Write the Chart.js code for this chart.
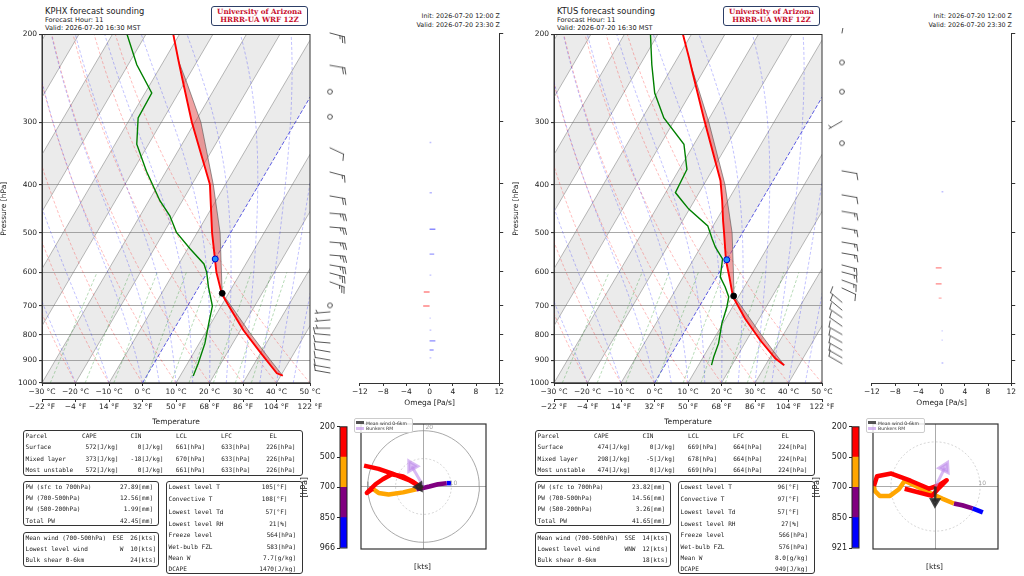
<!DOCTYPE html>
<html>
<head>
<meta charset="utf-8">
<title>Forecast soundings KPHX / KTUS</title>
<script src="https://cdn.jsdelivr.net/npm/chart.js@4.4.1/dist/chart.umd.min.js"></script>
<style>
  body { margin: 0; background: #fff; font-family: "DejaVu Sans", sans-serif; color: #222;
         -webkit-font-smoothing: antialiased; }
  #page { position: relative; width: 1024px; height: 576px; overflow: hidden; }
  .panel { position: absolute; top: 0; width: 512px; height: 576px; }
  .panel canvas { position: absolute; }
  .abs { position: absolute; white-space: pre; line-height: 8px; }
  .ttl { font-size: 8.3px; line-height: 10px; }
  .sub { font-size: 6.6px; }
  .init { font-size: 6.4px; }
  .ua { position: absolute; box-sizing: border-box; border: 1.3px solid #2c3e66; border-radius: 3px;
        font-family: "DejaVu Serif", serif; font-weight: bold; color: #c8102e; font-size: 7.2px;
        text-align: center; line-height: 8.6px; padding-top: 0.5px; }
  .box { position: absolute; box-sizing: border-box; border: 1.2px solid #333; border-radius: 3px; }
  .mono { font-family: "DejaVu Sans Mono", monospace; font-size: 6.1px; }
  .lg { position: absolute; box-sizing: border-box; border: 0.6px solid #ccc; border-radius: 2px;
        background: rgba(255,255,255,0.85); font-size: 4.6px; line-height: 5.6px; color: #333; }
  .sw { display: inline-block; width: 8px; height: 3px; margin: 0 2px 0 1px; vertical-align: 0.5px; }
</style>
</head>
<body>
<div id="page">
  <div id="p0" class="panel" style="left:0"></div>
  <div id="p1" class="panel" style="left:512px"></div>
</div>
<script>
// ---------- KPHX sounding ----------
var phxTempP = [967, 956, 866, 784, 700, 663, 600, 565, 500, 400, 300, 250, 226, 200];
var phxTemp  = [40.6, 38.4, 29.6, 20.9, 12.2, 8.1, 2.7, 0.0, -5.5, -14.6, -30.9, -40.4, -45.6, -51.8];
var phxDewP  = [968, 913, 833, 749, 701, 642, 600, 577, 538, 499, 462, 431, 376, 332, 294, 262, 230, 200];
var phxDew   = [13.9, 13.2, 11.7, 9.0, 7.4, 2.9, -0.2, -2.5, -9.3, -16.2, -21.1, -26.7, -35.9, -43.5, -47.7, -48.0, -57.4, -65.6];
var phxParcelP = [967, 900, 800, 700, 661, 600, 500, 400, 300, 250, 226];
var phxParcelT = [40.6, 34.2, 24.0, 12.9, 8.1, 4.2, -3.1, -13.6, -28.2, -39.3, -45.6];
var phxLcl = [661, 8.1];
var phxFzl = [564, 0];
var phxBarbP   = [200, 232, 262, 294, 339, 379, 423, 458, 488, 523, 555, 581, 603, 628, 700, 721, 748, 777, 802, 832, 867, 900, 933, 955];
var phxBarbSpd = [25, 20, 0, 0, 10, 15, 20, 25, 25, 25, 25, 25, 25, 25, 0, 5, 5, 5, 10, 10, 10, 10, 10, 10];
var phxBarbDir = [105, 100, 0, 0, 115, 105, 100, 95, 95, 95, 95, 100, 105, 110, 0, 265, 265, 270, 275, 275, 280, 280, 280, 280];
var phxOmegaP = [331, 417, 493, 553, 609, 658, 702, 742, 784, 824, 859, 891];
var phxOmega  = [0.3, 0.4, 1.0, 0.8, 0.3, -1.0, -1.1, 0.2, 0.3, 1.0, 0.7, 0.3];
var phxHodoU = [9.9, 8.3, 5.2, 2.1, -1.0, -2.6, -7.3, -12.5, -16.1, -18.2, -20.3, -17.2, -14.6, -11.4, -7.3, -3.6, -1.0, -5.2, -11.4, -16.1, -21.3];
var phxHodoV = [1.2, 1.2, 0.8, 0.0, -0.7, -1.0, -2.1, -2.9, -2.3, -0.8, -2.3, 0.8, 2.6, 4.4, 3.6, 1.6, -0.2, 2.3, 4.7, 6.3, 7.5];
var phxHodoBand = [0, 0, 1, 1, 1, 1, 2, 2, 2, 2, 3, 3, 3, 3, 3, 3, 3, 3, 3, 3, 3];
var phxHodoRange = 22.4;
var phxMeanWind = [-1.6, -0.1];
var phxBunkersRM = [-4.2, 7.3];
var phxCbLabels = ['200', '500', '700', '850', '966'];

// ---------- KTUS sounding ----------
var tusTempP = [921, 893, 821, 743, 671, 613, 568, 500, 473, 431, 393, 294, 237, 224, 200];
var tusTemp  = [35.6, 31.8, 24.1, 15.8, 8.3, 3.8, -0.1, -5.5, -7.9, -11.7, -15.7, -31.7, -43.3, -46.3, -52.5];
var tusDewP  = [921, 886, 833, 760, 704, 672, 642, 613, 564, 534, 514, 484, 448, 431, 415, 373, 332, 294, 262, 230, 200];
var tusDew   = [13.9, 13.1, 12.2, 9.7, 8.3, 7.1, 4.3, 1.1, -1.4, -5.6, -8.0, -11.6, -20.2, -23.7, -27.1, -27.7, -33.0, -43.6, -50.7, -56.5, -62.2];
var tusParcelP = [921, 850, 800, 700, 669, 600, 500, 400, 300, 250, 224];
var tusParcelT = [35.6, 28.6, 23.4, 12.3, 8.5, 4.2, -3.1, -13.7, -29.4, -40.0, -46.4];
var tusLcl = [669, 8.4];
var tusFzl = [566, 0];
var tusBarbP   = [200, 229, 262, 300, 332, 377, 421, 454, 490, 523, 550, 581, 600, 623, 646, 690, 715, 740, 770, 800, 830, 860, 890, 915];
var tusBarbSpd = [5, 0, 0, 5, 0, 10, 10, 15, 15, 15, 15, 15, 15, 15, 10, 10, 10, 10, 10, 10, 10, 12, 12, 12];
var tusBarbDir = [10, 0, 0, 240, 0, 100, 100, 100, 100, 100, 100, 105, 105, 110, 115, 310, 310, 305, 305, 300, 300, 300, 300, 300];
var tusOmegaP = [415, 589, 634, 677, 787, 821, 912];
var tusOmega  = [0.3, -1.0, -1.0, -0.5, 0.2, 0.2, 0.3];
var tusHodoU = [10.6, 8.3, 6.0, 4.1, 1.5, -0.5, -6.9, -8.2, -10.2, -12.5, -13.6, -13.8, -13.1, -9.9, -5.6, -1.4, 0.8, 2.5, 0.8, -0.8, -6.9];
var tusHodoV = [-5.8, -4.9, -4.2, -3.8, -2.7, -1.8, 1.3, -0.6, -2.1, -2.1, -1.0, 0.1, 2.3, 2.9, 1.3, -0.5, 0.3, 1.4, -0.3, -2.1, -0.5];
var tusHodoBand = [0, 0, 1, 1, 2, 2, 2, 2, 2, 2, 2, 2, 3, 3, 3, 3, 3, 3, 3, 3, 3];
var tusHodoRange = 14.0;
var tusMeanWind = [-0.1, -3.4];
var tusBunkersRM = [2.1, 4.2];
var tusCbLabels = ['200', '500', '700', '850', '921'];

// ---------- tables ----------
var parcelHeader = ['Parcel', 'CAPE', 'CIN', 'LCL', 'LFC', 'EL'];
var phxParcelRows = [
  ['Surface', '572[J/kg]', '0[J/kg]', '661[hPa]', '633[hPa]', '226[hPa]'],
  ['Mixed layer', '373[J/kg]', '-18[J/kg]', '670[hPa]', '633[hPa]', '226[hPa]'],
  ['Most unstable', '572[J/kg]', '0[J/kg]', '661[hPa]', '633[hPa]', '226[hPa]']
];
var tusParcelRows = [
  ['Surface', '474[J/kg]', '0[J/kg]', '669[hPa]', '664[hPa]', '224[hPa]'],
  ['Mixed layer', '298[J/kg]', '-5[J/kg]', '678[hPa]', '664[hPa]', '224[hPa]'],
  ['Most unstable', '474[J/kg]', '0[J/kg]', '669[hPa]', '664[hPa]', '224[hPa]']
];
var pwLabels = ['PW (sfc to 700hPa)', 'PW (700-500hPa)', 'PW (500-200hPa)', 'Total PW'];
var phxPw = ['27.89[mm]', '12.56[mm]', '1.99[mm]', '42.45[mm]'];
var tusPw = ['23.82[mm]', '14.56[mm]', '3.26[mm]', '41.65[mm]'];
var windLabels = ['Mean wind (700-500hPa)', 'Lowest level wind', 'Bulk shear 0-6km'];
var phxWindDir = ['ESE', 'W', ''];
var phxWindVal = ['26[kts]', '10[kts]', '24[kts]'];
var tusWindDir = ['SSE', 'WNW', ''];
var tusWindVal = ['14[kts]', '12[kts]', '18[kts]'];
var indexLabels = ['Lowest level T', 'Convective T', 'Lowest level Td', 'Lowest level RH', 'Freeze level', 'Wet-bulb FZL', 'Mean W', 'DCAPE'];
var phxIndex = ['105[°F]', '108[°F]', '57[°F]', '21[%]', '564[hPa]', '583[hPa]', '7.7[g/kg]', '1470[J/kg]'];
var tusIndex = ['96[°F]', '97[°F]', '57[°F]', '27[%]', '566[hPa]', '576[hPa]', '8.0[g/kg]', '949[J/kg]'];

// ---------- axes ----------
var pressureTicks = [200, 300, 400, 500, 600, 700, 800, 900, 1000];
var tempTicksC = [-30, -20, -10, 0, 10, 20, 30, 40, 50];
var tempTicksF = [-22, -4, 14, 32, 50, 68, 86, 104, 122];
var omegaTicks = [-12, -8, -4, 0, 4, 8, 12];
var hodoRings = [10, 20];
var bandColors = ['#0000ff', '#800080', '#ffa500', '#ff0000'];

// background reference lines of the skew-T diagram
var dryT0 = [-30, -20, -10, 0, 10, 20, 30, 40, 50];
var moistT0 = [-30, -20, -10, 0, 5, 10, 15, 20, 25, 30, 35, 40, 45, 50];
var mixRatios = [0.0004, 0.001, 0.002, 0.004, 0.007, 0.01, 0.016, 0.024, 0.032];

var SKEW = 37.9;   // degC shift per ln(1000/p)

Chart.defaults.font.family = '"DejaVu Sans", sans-serif';
Chart.defaults.font.size = 7.5;
Chart.defaults.color = '#222';

function skewX(t, p) { return t + SKEW * Math.log(1000 / p); }
function minus(v) { return v < 0 ? '\u2212' + Math.abs(v) : String(v); }
function fixedTicks(list) { return function (sc) { sc.ticks = list.map(function (v) { return {value: v}; }); }; }

function dryAdiabat(t0) {
  var pts = [];
  for (var p = 1000; p >= 200; p -= 20) {
    var t = (t0 + 273.15) * Math.pow(p / 1000, 0.2857) - 273.15;
    pts.push({x: skewX(t, p), y: p});
  }
  return pts;
}
function satMix(t, p) { var es = 6.112 * Math.exp(17.67 * t / (t + 243.5)); return 0.622 * es / (p - es); }
function moistRate(t, p) {
  var T = t + 273.15, rs = satMix(t, p);
  return (287.04 * T + 2.501e6 * rs) / (1005.7 + 2.501e6 * 2.501e6 * rs * 0.622 / (287.04 * T * T)) / p;
}
function moistAdiabat(t0) {
  var pts = [{x: skewX(t0, 1000), y: 1000}], t = t0;
  for (var p = 1000; p > 200; p -= 10) {
    var k1 = moistRate(t, p);
    var k2 = moistRate(t - 5 * k1, p - 5);
    t -= 10 * k2;
    pts.push({x: skewX(t, p - 10), y: p - 10});
  }
  return pts;
}
function mixLine(w) {
  var pts = [];
  for (var p = 1000; p >= 600; p -= 50) {
    var e = p * w / (0.622 + w), l = Math.log(e / 6.112);
    pts.push({x: skewX(243.5 * l / (17.67 - l), p), y: p});
  }
  return pts;
}
function profile(ps, ts) { return ps.map(function (p, i) { return {x: skewX(ts[i], p), y: p}; }); }

// draws a frame round the plot area
var framePlugin = {
  id: 'frame',
  afterDatasetsDraw: function (chart, args, opts) {
    var a = chart.chartArea, g = chart.ctx;
    g.save();
    g.strokeStyle = opts.color || '#333';
    g.lineWidth = opts.width || 1;
    g.strokeRect(a.left, a.top, a.right - a.left, a.bottom - a.top);
    g.restore();
  }
};
// ring labels on the hodograph
var ringLabelPlugin = {
  id: 'ringLabels',
  afterDatasetsDraw: function (chart, args, opts) {
    var g = chart.ctx, xs = chart.scales.x, ys = chart.scales.y, a = chart.chartArea;
    g.save();
    g.fillStyle = 'rgba(150,150,150,0.9)';
    g.font = '6px "DejaVu Sans"';
    g.textBaseline = 'middle';
    (opts.rings || []).forEach(function (r) {
      var x, y;
      if (r % 20 === 0) { g.textAlign = 'left'; x = xs.getPixelForValue(0) + 2; y = ys.getPixelForValue(r) - 3; }
      else { g.textAlign = 'center'; x = xs.getPixelForValue(r) + 2; y = ys.getPixelForValue(0) - 3; }
      if (x > a.left && x < a.right && y > a.top && y < a.bottom) g.fillText(String(r), x, y);
    });
    g.restore();
  }
};

function makeCanvas(parent, x, y, w, h) {
  var c = document.createElement('canvas');
  c.width = w; c.height = h;
  c.style.left = x + 'px'; c.style.top = y + 'px';
  c.style.width = w + 'px'; c.style.height = h + 'px';
  parent.appendChild(c);
  return c;
}
function txt(parent, text, x, yc, cls, right) {
  var d = document.createElement('div');
  d.className = 'abs ' + (cls || '');
  d.textContent = text;
  if (right) { d.style.left = (x - 300) + 'px'; d.style.width = '300px'; d.style.textAlign = 'right'; }
  else d.style.left = x + 'px';
  d.style.top = (yc - 4) + 'px';
  parent.appendChild(d);
  return d;
}
function box(parent, x, y, w, h) {
  var d = document.createElement('div');
  d.className = 'box';
  d.style.left = x + 'px'; d.style.top = y + 'px'; d.style.width = w + 'px'; d.style.height = h + 'px';
  parent.appendChild(d);
}

function buildSkewT(root, s) {
  var ds = [];
  function add(o) { ds.push(Object.assign({pointRadius: 0, borderWidth: 0.8, fill: false, tension: 0}, o)); }
  // shaded isotherm bands
  for (var t = -110; t <= 50; t += 20) {
    add({indexAxis: 'y', fill: 'shape', borderWidth: 0, backgroundColor: 'rgba(128,128,128,0.16)',
         data: [{x: skewX(t, 1000), y: 1000}, {x: skewX(t, 200), y: 200}, {x: skewX(t + 10, 200), y: 200}, {x: skewX(t + 10, 1000), y: 1000}]});
  }
  for (var ti = -120; ti <= 50; ti += 10) {
    if (ti === 0) continue;
    add({borderColor: 'rgba(110,110,110,0.6)', data: [{x: skewX(ti, 1000), y: 1000}, {x: skewX(ti, 200), y: 200}]});
  }
  dryT0.forEach(function (t0) { add({borderColor: 'rgba(255,0,0,0.38)', borderDash: [3, 2], borderWidth: 0.7, data: dryAdiabat(t0)}); });
  moistT0.forEach(function (t0) { add({borderColor: 'rgba(0,0,255,0.35)', borderDash: [3, 2], borderWidth: 0.7, data: moistAdiabat(t0)}); });
  mixRatios.forEach(function (w) { add({borderColor: 'rgba(0,128,0,0.4)', borderDash: [3, 2], borderWidth: 0.7, data: mixLine(w)}); });
  add({borderColor: 'rgba(40,40,220,0.75)', borderDash: [4, 2], borderWidth: 1, data: [{x: skewX(0, 1000), y: 1000}, {x: skewX(0, 200), y: 200}]});

  // CAPE area between parcel and environment
  var parcel = profile(s.parcelP, s.parcelT);
  var pTop = s.parcelP[s.parcelP.length - 1], pBot = s.parcelP[0];
  var env = [];
  s.tempP.forEach(function (p, i) { if (p <= pBot && p >= pTop) env.push({x: skewX(s.temp[i], p), y: p}); });
  add({indexAxis: 'y', fill: 'shape', borderWidth: 0, backgroundColor: 'rgba(225,70,70,0.5)', data: parcel.concat(env.reverse())});
  add({borderColor: 'rgba(90,90,90,0.8)', borderWidth: 0.8, data: parcel});
  add({borderColor: '#008000', borderWidth: 1.4, data: profile(s.dewP, s.dew)});
  add({borderColor: '#ff0000', borderWidth: 1.9, data: profile(s.tempP, s.temp)});
  add({showLine: false, pointRadius: 3, pointBackgroundColor: '#000', pointBorderColor: '#000',
       data: [{x: skewX(s.lcl[1], s.lcl[0]), y: s.lcl[0]}]});
  add({showLine: false, pointRadius: 3, pointBackgroundColor: '#1e90ff', pointBorderColor: '#0000cc', pointBorderWidth: 1,
       data: [{x: skewX(s.fzl[1], s.fzl[0]), y: s.fzl[0]}]});
  ds.forEach(function (d, i) { d.order = ds.length - i; });

  var cv = makeCanvas(root, 0, 28, 330, 401);
  new Chart(cv, {
    type: 'line',
    data: {datasets: ds},
    options: {
      responsive: false, animation: false, events: [],
      layout: {padding: {top: 5, right: 20, left: 0, bottom: 0}},
      plugins: {legend: {display: false}, tooltip: {enabled: false}, frame: {color: '#333', width: 1}},
      scales: {
        x: {type: 'linear', min: -30, max: 50, afterBuildTicks: fixedTicks(tempTicksC),
            ticks: {callback: function (v) { return minus(v) + ' °C'; }, padding: 2, maxRotation: 0, autoSkip: false},
            grid: {drawOnChartArea: false, tickLength: 3, tickColor: '#333'}, border: {color: '#333'},
            afterFit: function (sc) { sc.height = 16; }},
        xF: {type: 'linear', axis: 'x', position: 'bottom', min: -22, max: 122, afterBuildTicks: fixedTicks(tempTicksF),
             ticks: {callback: function (v) { return minus(v) + ' °F'; }, padding: 1, maxRotation: 0, autoSkip: false},
             grid: {drawOnChartArea: false, tickLength: 3, tickColor: '#333'}, border: {color: '#333'},
             title: {display: true, text: 'Temperature', padding: {top: 1, bottom: 2}},
             afterFit: function (sc) { sc.height = 30; }},
        y: {type: 'logarithmic', reverse: true, min: 200, max: 1000, afterBuildTicks: fixedTicks(pressureTicks),
            ticks: {callback: function (v) { return String(v); }, padding: 2, autoSkip: false},
            grid: {color: 'rgba(140,140,140,0.75)', lineWidth: 1.1, tickLength: 3, tickColor: '#333'},
            border: {color: '#333'},
            title: {display: true, text: 'Pressure [hPa]', padding: {top: 0, bottom: 2}},
            afterFit: function (sc) { sc.width = 42; }}
      }
    },
    plugins: [framePlugin]
  });
}

function barbImage(spd, dir) {
  var c = document.createElement('canvas');
  c.width = 44; c.height = 44;
  var g = c.getContext('2d'), cx = 22, cy = 22;
  g.strokeStyle = '#444'; g.lineWidth = 0.9; g.lineCap = 'round';
  g.beginPath();
  if (spd < 2.5) { g.arc(cx, cy, 2.4, 0, 2 * Math.PI); g.stroke(); return c; }
  var a = dir * Math.PI / 180, ux = Math.sin(a), uy = -Math.cos(a), sx = -uy, sy = ux;
  var L = 15, B = 6, pos = L, n = Math.round(spd / 5), full = Math.floor(n / 2), half = n % 2;
  g.moveTo(cx, cy); g.lineTo(cx + ux * L, cy + uy * L);
  for (var i = 0; i < full; i++) {
    var px = cx + ux * pos, py = cy + uy * pos;
    g.moveTo(px, py); g.lineTo(px + sx * B + ux * B * 0.35, py + sy * B + uy * B * 0.35);
    pos -= 2.4;
  }
  if (half) {
    if (full === 0) pos -= 2.4;
    var hx = cx + ux * pos, hy = cy + uy * pos;
    g.moveTo(hx, hy); g.lineTo(hx + sx * B * 0.5 + ux * B * 0.18, hy + sy * B * 0.5 + uy * B * 0.18);
  }
  g.stroke();
  return c;
}

function buildBarbs(root, s) {
  var imgs = s.barbP.map(function (p, i) { return barbImage(s.barbSpd[i], s.barbDir[i]); });
  var cv = makeCanvas(root, 300, 28, 60, 401);
  new Chart(cv, {
    type: 'scatter',
    data: {datasets: [{data: s.barbP.map(function (p) { return {x: 0, y: p}; }), pointStyle: imgs, pointRadius: 3, clip: false, showLine: false}]},
    options: {
      responsive: false, animation: false, events: [],
      layout: {padding: {top: 5, bottom: 46}},
      plugins: {legend: {display: false}, tooltip: {enabled: false}},
      scales: {
        x: {type: 'linear', display: false, min: -1, max: 1},
        y: {type: 'logarithmic', display: false, reverse: true, min: 200, max: 1000}
      }
    }
  });
}

function buildOmega(root, s) {
  var ds = s.omegaP.map(function (p, i) {
    var v = s.omega[i], a = (0.22 + 0.38 * Math.min(1, Math.abs(v))).toFixed(2);
    return {data: [{x: 0, y: p}, {x: v, y: p}], borderWidth: 1.4, pointRadius: 0,
            borderColor: v < 0 ? 'rgba(255,50,50,' + a + ')' : 'rgba(60,60,255,' + a + ')'};
  });
  var cv = makeCanvas(root, 350, 28, 156, 401);
  new Chart(cv, {
    type: 'line',
    data: {datasets: ds},
    options: {
      responsive: false, animation: false, events: [],
      layout: {padding: {left: 8, top: 5, bottom: 20, right: 0}},
      plugins: {legend: {display: false}, tooltip: {enabled: false}},
      scales: {
        x: {type: 'linear', min: -12, max: 12, afterBuildTicks: fixedTicks(omegaTicks),
            ticks: {callback: function (v) { return minus(v); }, padding: 2, maxRotation: 0, autoSkip: false},
            grid: {drawOnChartArea: false, tickLength: 3, tickColor: '#333'}, border: {color: '#333'},
            title: {display: true, text: 'Omega [Pa/s]', padding: {top: 0, bottom: 1}},
            afterFit: function (sc) { sc.height = 26; }},
        y: {type: 'logarithmic', position: 'right', reverse: true, min: 200, max: 1000, afterBuildTicks: fixedTicks(pressureTicks),
            ticks: {display: false}, grid: {drawOnChartArea: false, tickLength: 4, tickColor: '#333'}, border: {color: '#333'},
            afterFit: function (sc) { sc.width = 6; }}
      }
    }
  });
}

function buildHodo(root, s) {
  var R = s.hodoRange, ds = [];
  ds.push({data: [{x: -R, y: 0}, {x: R, y: 0}], borderColor: 'rgba(150,150,150,0.8)', borderWidth: 1, pointRadius: 0});
  ds.push({data: [{x: 0, y: -R}, {x: 0, y: R}], borderColor: 'rgba(150,150,150,0.8)', borderWidth: 1, pointRadius: 0});
  hodoRings.forEach(function (r) {
    var pts = [];
    for (var a = 0; a <= 360; a += 5) pts.push({x: r * Math.cos(a * Math.PI / 180), y: r * Math.sin(a * Math.PI / 180)});
    ds.push({data: pts, pointRadius: 0, borderWidth: r % 20 === 0 ? 1 : 0.8,
             borderColor: r % 20 === 0 ? 'rgba(140,140,140,0.75)' : 'rgba(170,170,170,0.6)',
             borderDash: r % 20 === 0 ? [] : [2, 2]});
  });
  // hodograph coloured by layer
  var cur = null, segs = [];
  s.hodoU.forEach(function (u, i) {
    var pt = {x: u, y: s.hodoV[i]};
    if (!cur || s.hodoBand[i] !== cur.band) {
      var prev = cur ? cur.pts[cur.pts.length - 1] : null;
      cur = {band: s.hodoBand[i], pts: prev ? [prev] : []};
      segs.push(cur);
    }
    cur.pts.push(pt);
  });
  segs.forEach(function (sg) {
    ds.push({data: sg.pts, borderColor: bandColors[sg.band], borderWidth: 4.5, pointRadius: 0, borderJoinStyle: 'round'});
  });
  function arrow(vec, color, width, head) {
    var rot = Math.atan2(vec[0], vec[1]) * 180 / Math.PI;
    ds.push({data: [{x: 0, y: 0}, {x: vec[0], y: vec[1]}], borderColor: color, borderWidth: width,
             pointRadius: [0, head], pointStyle: 'triangle', pointRotation: [0, rot],
             pointBackgroundColor: color, pointBorderColor: color});
  }
  arrow(s.bunkers, 'rgba(190,140,235,0.6)', 3, 6);
  arrow(s.meanWind, 'rgba(40,40,40,0.85)', 2.5, 4.5);
  ds.forEach(function (d, i) { d.order = ds.length - i; });

  var cv = makeCanvas(root, 352, 415, 143, 143);
  new Chart(cv, {
    type: 'line',
    data: {datasets: ds},
    options: {
      responsive: false, animation: false, events: [],
      plugins: {legend: {display: false}, tooltip: {enabled: false}, frame: {color: '#333', width: 1.2}, ringLabels: {rings: hodoRings}},
      scales: {
        x: {type: 'linear', display: false, min: -R, max: R},
        y: {type: 'linear', display: false, min: -R, max: R}
      }
    },
    plugins: [framePlugin, ringLabelPlugin]
  });
  var lg = document.createElement('div');
  lg.className = 'lg';
  lg.style.cssText = 'left:354px;top:418px;width:59px;height:15px;padding-top:1.5px;';
  lg.innerHTML = '<div><span class="sw" style="background:rgba(40,40,40,0.8)"></span>Mean wind 0-6km</div>' +
                 '<div><span class="sw" style="background:rgba(190,140,235,0.6)"></span>Bunkers RM</div>';
  root.appendChild(lg);
  txt(root, '[kts]', 414, 567, '', false).style.fontSize = '7.5px';
}

function buildColorbar(root, s) {
  var cv = makeCanvas(root, 300, 420, 48, 135);
  new Chart(cv, {
    type: 'bar',
    data: {labels: [''], datasets: bandColors.map(function (c) {
      return {data: [1], backgroundColor: c, borderWidth: 0, barPercentage: 1, categoryPercentage: 1};
    })},
    options: {
      responsive: false, animation: false, events: [],
      layout: {padding: {top: 6, bottom: 7, right: 1}},
      plugins: {legend: {display: false}, tooltip: {enabled: false}, frame: {color: '#222', width: 1}},
      scales: {
        x: {display: false, stacked: true},
        y: {stacked: true, min: 0, max: 4, afterBuildTicks: fixedTicks([0, 1, 2, 3, 4]),
            ticks: {callback: function (v) { return s.cbLabels[4 - v]; }, font: {size: 8}, padding: 2},
            grid: {drawOnChartArea: false, tickLength: 3, tickColor: '#222'}, border: {display: false},
            title: {display: true, text: '[hPa]', font: {size: 8}, padding: 0},
            afterFit: function (sc) { sc.width = 40; }}
      }
    },
    plugins: [framePlugin]
  });
}

function buildTables(root, s) {
  box(root, 23, 430, 280, 46);
  var hx = [25.5, 82, 130.5, 176, 221, 269.5];
  var vr = [118.5, 163.5, 205.2, 250.5, 295.5];
  var ys1 = [436, 447.3, 458.7, 470];
  parcelHeader.forEach(function (h, j) { txt(root, h, hx[j], ys1[0], 'mono'); });
  s.parcelRows.forEach(function (row, i) {
    txt(root, row[0], 25.5, ys1[i + 1], 'mono');
    for (var j = 1; j < row.length; j++) txt(root, row[j], vr[j - 1], ys1[i + 1], 'mono', true);
  });
  box(root, 23, 481, 136, 45);
  var ys2 = [486.7, 498, 509.3, 520.7];
  pwLabels.forEach(function (l, i) { txt(root, l, 25.5, ys2[i], 'mono'); txt(root, s.pw[i], 153, ys2[i], 'mono', true); });
  box(root, 23, 531.5, 136, 35.5);
  var ys3 = [537.7, 549, 560.3];
  windLabels.forEach(function (l, i) {
    txt(root, l, 25.5, ys3[i], 'mono');
    if (s.windDir[i]) txt(root, s.windDir[i], 123.5, ys3[i], 'mono', true);
    txt(root, s.windVal[i], 156, ys3[i], 'mono', true);
  });
  box(root, 166, 481, 137, 93);
  var ys4 = [486.7, 499.3, 511.7, 523.7, 535, 546.7, 557.7, 569];
  var r4 = [287.5, 287.5, 287.5, 287.5, 296, 296, 296, 296];
  indexLabels.forEach(function (l, i) { txt(root, l, 168.5, ys4[i], 'mono'); txt(root, s.index[i], r4[i], ys4[i], 'mono', true); });
}

function buildPanel(root, s) {
  txt(root, s.name + ' forecast sounding', 45, 9.5, 'ttl');
  txt(root, 'Forecast Hour: 11', 45, 20.2, 'sub');
  txt(root, 'Valid: 2026-07-20 16:30 MST', 45, 27.8, 'sub');
  var ua = document.createElement('div');
  ua.className = 'ua';
  ua.style.cssText = 'left:211px;top:6px;width:97px;height:20px;';
  ua.innerHTML = '<div>University of Arizona</div><div>HRRR-UA WRF 12Z</div>';
  root.appendChild(ua);
  txt(root, 'Init: 2026-07-20 12:00 Z', 500, 16, 'init', true);
  txt(root, 'Valid: 2026-07-20 23:30 Z', 500, 24.7, 'init', true);
  buildSkewT(root, s);
  buildBarbs(root, s);
  buildOmega(root, s);
  buildColorbar(root, s);
  buildHodo(root, s);
  buildTables(root, s);
}

buildPanel(document.getElementById('p0'), {
  name: 'KPHX', tempP: phxTempP, temp: phxTemp, dewP: phxDewP, dew: phxDew,
  parcelP: phxParcelP, parcelT: phxParcelT, lcl: phxLcl, fzl: phxFzl,
  barbP: phxBarbP, barbSpd: phxBarbSpd, barbDir: phxBarbDir,
  omegaP: phxOmegaP, omega: phxOmega,
  hodoU: phxHodoU, hodoV: phxHodoV, hodoBand: phxHodoBand, hodoRange: phxHodoRange,
  meanWind: phxMeanWind, bunkers: phxBunkersRM, cbLabels: phxCbLabels,
  parcelRows: phxParcelRows, pw: phxPw, windDir: phxWindDir, windVal: phxWindVal, index: phxIndex
});
buildPanel(document.getElementById('p1'), {
  name: 'KTUS', tempP: tusTempP, temp: tusTemp, dewP: tusDewP, dew: tusDew,
  parcelP: tusParcelP, parcelT: tusParcelT, lcl: tusLcl, fzl: tusFzl,
  barbP: tusBarbP, barbSpd: tusBarbSpd, barbDir: tusBarbDir,
  omegaP: tusOmegaP, omega: tusOmega,
  hodoU: tusHodoU, hodoV: tusHodoV, hodoBand: tusHodoBand, hodoRange: tusHodoRange,
  meanWind: tusMeanWind, bunkers: tusBunkersRM, cbLabels: tusCbLabels,
  parcelRows: tusParcelRows, pw: tusPw, windDir: tusWindDir, windVal: tusWindVal, index: tusIndex
});
</script>
</body>
</html>
